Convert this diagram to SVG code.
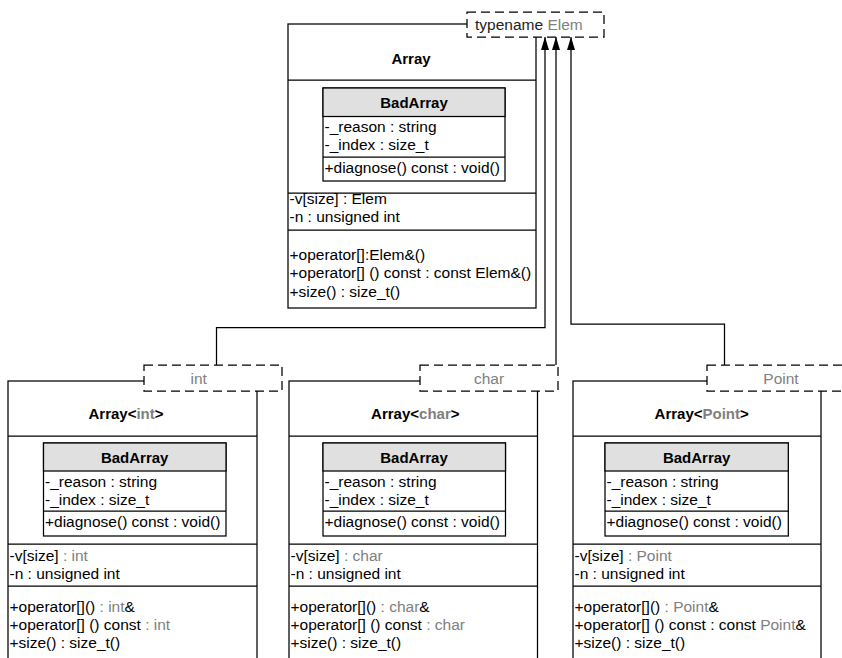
<svg xmlns="http://www.w3.org/2000/svg" width="842" height="658" viewBox="0 0 842 658">
  <defs>
    <marker id="block" viewBox="0 0 13 8" refX="13" refY="4" markerWidth="13" markerHeight="8" markerUnits="userSpaceOnUse" orient="auto">
      <path d="M0,0 L13,4 L0,8 z" fill="#000"/>
    </marker>
  </defs>
  <style>
    .box { fill: #fff; stroke: #000; stroke-width: 1.25; }
    .hdr { fill: #e0e0e0; stroke: #000; stroke-width: 1.25; }
    .sep { stroke: #000; stroke-width: 1.25; fill: none; }
    .tpl { fill: #fff; stroke: #000; stroke-width: 1.25; stroke-dasharray: 9 5; }
    .edge { fill: none; stroke: #000; stroke-width: 1.25; marker-end: url(#block); }
    text { font-family: "Liberation Sans", Arial, Helvetica, sans-serif; font-size: 15.5px; fill: #000; }
    .b { font-weight: bold; font-size: 15px; }
    .m { text-anchor: middle; }
    .g { fill: #808080; }
  </style>

  <rect width="842" height="658" fill="#fff"/>

  <!-- generic template class -->
  <g id="array">
    <rect class="box" x="288" y="24" width="248" height="284"/>
    <line class="sep" x1="288" y1="80" x2="536" y2="80"/>
    <text class="b m" x="411" y="64">Array</text>
    <g id="array-badarray">
      <rect class="box" x="323" y="88" width="182" height="93"/>
      <rect class="hdr" x="323" y="88" width="182" height="28.5"/>
      <line class="sep" x1="323" y1="157" x2="505" y2="157"/>
      <text class="b m" x="414" y="107.5">BadArray</text>
      <text x="324.5" y="131.5">-_reason : string</text>
      <text x="324.5" y="150">-_index : size_t</text>
      <text x="324.5" y="173">+diagnose() const : void()</text>
    </g>
    <line class="sep" x1="288" y1="193" x2="536" y2="193"/>
    <text x="289.5" y="204">-v[size] : Elem</text>
    <text x="289.5" y="221.5">-n : unsigned int</text>
    <line class="sep" x1="288" y1="230" x2="536" y2="230"/>
    <text x="289.5" y="260">+operator[]:Elem&amp;()</text>
    <text x="289.5" y="278">+operator[] () const : const Elem&amp;()</text>
    <text x="289.5" y="296.5">+size() : size_t()</text>
    <rect class="tpl" x="467" y="12" width="137" height="25"/>
    <text x="475" y="29.5"><tspan fill="#222">typename </tspan><tspan class="g">Elem</tspan></text>
  </g>

  <!-- Array<int> -->
  <g id="array-int">
    <rect class="box" x="8" y="381" width="249" height="300"/>
    <line class="sep" x1="8" y1="436" x2="257" y2="436"/>
    <text class="b m" x="126" y="419">Array&lt;<tspan class="g">int</tspan>&gt;</text>
    <g id="array-int-badarray">
      <rect class="box" x="43.5" y="443" width="182.5" height="93"/>
      <rect class="hdr" x="43.5" y="443" width="182.5" height="28"/>
      <line class="sep" x1="43.5" y1="511" x2="226" y2="511"/>
      <text class="b m" x="134.7" y="463">BadArray</text>
      <text x="45" y="487">-_reason : string</text>
      <text x="45" y="505">-_index : size_t</text>
      <text x="45" y="526.5">+diagnose() const : void()</text>
    </g>
    <line class="sep" x1="8" y1="544" x2="257" y2="544"/>
    <text x="9.5" y="561">-v[size] <tspan class="g">: int</tspan></text>
    <text x="9.5" y="578.5">-n : unsigned int</text>
    <line class="sep" x1="8" y1="586" x2="257" y2="586"/>
    <text x="9.5" y="612">+operator[]() <tspan class="g">: int</tspan>&amp;</text>
    <text x="9.5" y="630">+operator[] () const <tspan class="g">: int</tspan></text>
    <text x="9.5" y="648">+size() : size_t()</text>
    <rect class="tpl" x="144" y="365" width="138" height="26"/>
    <text class="g m" x="198.7" y="383.5">int</text>
  </g>

  <!-- Array<char> -->
  <g id="array-char">
    <rect class="box" x="289" y="381" width="248.5" height="300"/>
    <line class="sep" x1="289" y1="436" x2="537.5" y2="436"/>
    <text class="b m" x="415.3" y="419">Array&lt;<tspan class="g">char</tspan>&gt;</text>
    <g id="array-char-badarray">
      <rect class="box" x="323" y="443" width="182.5" height="93"/>
      <rect class="hdr" x="323" y="443" width="182.5" height="28"/>
      <line class="sep" x1="323" y1="511" x2="505.5" y2="511"/>
      <text class="b m" x="414" y="463">BadArray</text>
      <text x="324.5" y="487">-_reason : string</text>
      <text x="324.5" y="505">-_index : size_t</text>
      <text x="324.5" y="526.5">+diagnose() const : void()</text>
    </g>
    <line class="sep" x1="289" y1="544" x2="537.5" y2="544"/>
    <text x="290.5" y="561">-v[size] <tspan class="g">: char</tspan></text>
    <text x="290.5" y="578.5">-n : unsigned int</text>
    <line class="sep" x1="289" y1="586" x2="537.5" y2="586"/>
    <text x="290.5" y="612">+operator[]() <tspan class="g">: char</tspan>&amp;</text>
    <text x="290.5" y="630">+operator[] () const <tspan class="g">: char</tspan></text>
    <text x="290.5" y="648">+size() : size_t()</text>
    <rect class="tpl" x="420" y="365" width="138" height="26"/>
    <text class="g m" x="489" y="383.5">char</text>
  </g>

  <!-- Array<Point> -->
  <g id="array-point">
    <rect class="box" x="573" y="381" width="248" height="300"/>
    <line class="sep" x1="573" y1="436" x2="821" y2="436"/>
    <text class="b m" x="701.7" y="419">Array&lt;<tspan class="g">Point</tspan>&gt;</text>
    <g id="array-point-badarray">
      <rect class="box" x="605" y="443" width="183.3" height="93"/>
      <rect class="hdr" x="605" y="443" width="183.3" height="28"/>
      <line class="sep" x1="605" y1="511" x2="788.3" y2="511"/>
      <text class="b m" x="696.7" y="463">BadArray</text>
      <text x="606.5" y="487">-_reason : string</text>
      <text x="606.5" y="505">-_index : size_t</text>
      <text x="606.5" y="526.5">+diagnose() const : void()</text>
    </g>
    <line class="sep" x1="573" y1="544" x2="821" y2="544"/>
    <text x="574.5" y="561">-v[size] <tspan class="g">: Point</tspan></text>
    <text x="574.5" y="578.5">-n : unsigned int</text>
    <line class="sep" x1="573" y1="586" x2="821" y2="586"/>
    <text x="574.5" y="612">+operator[]() <tspan class="g">: Point</tspan>&amp;</text>
    <text x="574.5" y="630">+operator[] () const : const <tspan class="g">Point</tspan>&amp;</text>
    <text x="574.5" y="648">+size() : size_t()</text>
    <rect class="tpl" x="707" y="365" width="138" height="26"/>
    <text class="g m" x="781" y="383.5">Point</text>
  </g>

  <!-- template binding connectors -->
  <g id="connectors">
    <path class="edge" d="M216.5,365 V327.5 H545 V37"/>
    <path class="edge" d="M556,365 V37"/>
    <path class="edge" d="M724.5,365 V324 H571 V37"/>
  </g>
</svg>
